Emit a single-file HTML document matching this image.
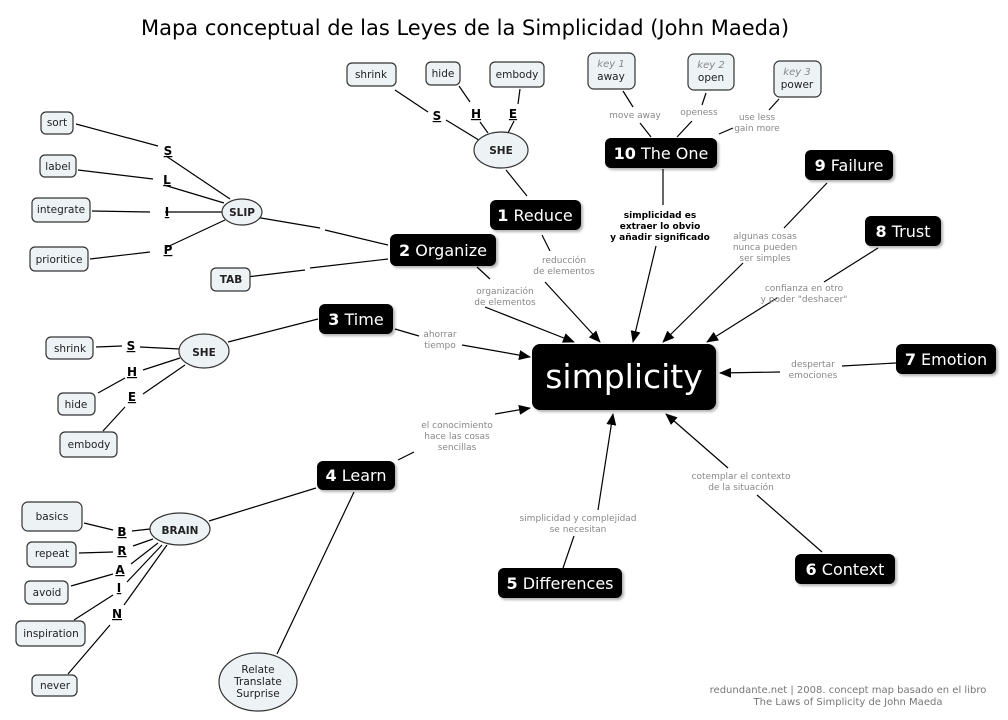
<!DOCTYPE html>
<html><head><meta charset="utf-8"><style>
html,body{margin:0;padding:0;background:#fff;}
svg{display:block;}
text{font-family:"DejaVu Sans","Liberation Sans",sans-serif;}
.b{fill:#000;}
.l{fill:#edf2f5;stroke:#333;stroke-width:1.2;}
.c{stroke:#000;stroke-width:1.2;fill:none;}
.g{fill:#888;font-size:9px;text-anchor:middle;}
.n{font-size:10.5px;fill:#222;text-anchor:middle;}
.L{font-size:12px;font-weight:bold;text-anchor:middle;text-decoration:underline;fill:#000;}
.bt{fill:#fff;font-size:16px;text-anchor:middle;}
</style></head><body>
<svg width="1008" height="720" viewBox="0 0 1008 720" xmlns="http://www.w3.org/2000/svg">
<defs>
<marker id="a" markerWidth="12" markerHeight="10" refX="11" refY="5" orient="auto" markerUnits="userSpaceOnUse"><path d="M0,0 L12,5 L0,10 z" fill="#000"/></marker>
<filter id="s"><feDropShadow dx="2" dy="2" stdDeviation="1.2" flood-color="#000" flood-opacity="0.3"/></filter>
</defs>
<text x="465" y="35" font-size="21" text-anchor="middle" fill="#000">Mapa conceptual de las Leyes de la Simplicidad (John Maeda)</text>

<g class="c">
<line x1="395" y1="90" x2="428" y2="112"/><line x1="446" y1="120" x2="482" y2="142"/>
<line x1="459" y1="86" x2="470" y2="102"/><line x1="480" y1="122" x2="488" y2="133"/>
<line x1="520" y1="89" x2="518" y2="104"/><line x1="514" y1="121" x2="508" y2="133"/>
<line x1="506" y1="170" x2="527" y2="196"/>
<line x1="76" y1="124" x2="158" y2="146"/><line x1="166" y1="156" x2="230" y2="199"/>
<line x1="78" y1="170" x2="153" y2="179"/><line x1="164" y1="185" x2="224" y2="203"/>
<line x1="92" y1="211" x2="150" y2="212"/><line x1="165" y1="212" x2="222" y2="212"/>
<line x1="90" y1="259" x2="150" y2="252"/><line x1="165" y1="248" x2="225" y2="220"/>
<line x1="255" y1="217" x2="320" y2="228"/><line x1="325" y1="230" x2="388" y2="245"/>
<line x1="238" y1="278" x2="305" y2="270"/><line x1="310" y1="268" x2="388" y2="259"/>
<line x1="96" y1="347" x2="122" y2="346"/><line x1="140" y1="347" x2="180" y2="349"/>
<line x1="98" y1="393" x2="125" y2="378"/><line x1="143" y1="370" x2="180" y2="358"/>
<line x1="103" y1="431" x2="125" y2="407"/><line x1="143" y1="394" x2="185" y2="365"/>
<line x1="228" y1="342" x2="318" y2="319"/>
<line x1="84" y1="523" x2="113" y2="530"/><line x1="132" y1="531" x2="150" y2="529"/>
<line x1="79" y1="553" x2="113" y2="552"/><line x1="133" y1="546" x2="153" y2="539"/>
<line x1="71" y1="586" x2="113" y2="574"/><line x1="131" y1="564" x2="158" y2="543"/>
<line x1="74" y1="620" x2="113" y2="595"/><line x1="127" y1="582" x2="162" y2="545"/>
<line x1="68" y1="674" x2="110" y2="625"/><line x1="124" y1="605" x2="167" y2="545"/>
<line x1="209" y1="521" x2="316" y2="488"/>
<line x1="354" y1="492" x2="277" y2="654"/>
<line x1="623" y1="91" x2="633" y2="107"/><line x1="640" y1="123" x2="651" y2="137"/>
<line x1="706" y1="93" x2="702" y2="105"/><line x1="692" y1="121" x2="677" y2="137"/>
<line x1="779" y1="99" x2="769" y2="110"/><line x1="733" y1="128" x2="719" y2="134"/>
</g>
<g class="c" marker-end="url(#a)">
<line x1="485" y1="307" x2="574" y2="342"/>
<line x1="545" y1="282" x2="600" y2="342"/>
<line x1="656" y1="246" x2="633" y2="342"/>
<line x1="743" y1="263" x2="663" y2="342"/>
<line x1="777" y1="298" x2="707" y2="342"/>
<line x1="780" y1="372" x2="720" y2="373"/>
<line x1="728" y1="468" x2="666" y2="414"/>
<line x1="598" y1="510" x2="613" y2="414"/>
<line x1="495" y1="414" x2="530" y2="408"/>
<line x1="462" y1="345" x2="530" y2="357"/>
</g>
<g class="c">
<line x1="663" y1="169" x2="663" y2="205"/>
<line x1="827" y1="183" x2="784" y2="228"/>
<line x1="878" y1="248" x2="824" y2="282"/>
<line x1="842" y1="366" x2="896" y2="363"/>
<line x1="757" y1="495" x2="822" y2="552"/>
<line x1="563" y1="568" x2="574" y2="536"/>
<line x1="398" y1="460" x2="414" y2="452"/>
<line x1="542" y1="235" x2="550" y2="251"/>
<line x1="477" y1="267" x2="490" y2="279"/>
<line x1="395" y1="329" x2="419" y2="336"/>
</g>

<text class="L" x="437" y="120">S</text><text class="L" x="476" y="118">H</text><text class="L" x="513" y="118">E</text>
<text class="L" x="168" y="155">S</text><text class="L" x="167" y="184">L</text><text class="L" x="167" y="216">I</text><text class="L" x="168" y="254">P</text>
<text class="L" x="131" y="350">S</text><text class="L" x="132" y="376">H</text><text class="L" x="132" y="401">E</text>
<text class="L" x="122" y="536">B</text><text class="L" x="122" y="555">R</text><text class="L" x="120" y="574">A</text><text class="L" x="119" y="592">I</text><text class="L" x="117" y="618">N</text>

<g class="g">
<text x="635" y="118">move away</text><text x="699" y="115">openess</text>
<text x="757" y="120">use less</text><text x="757" y="131">gain more</text>
<text x="564" y="263">reducción</text><text x="564" y="274">de elementos</text>
<text x="505" y="294">organización</text><text x="505" y="305">de elementos</text>
<text x="440" y="337">ahorrar</text><text x="440" y="348">tiempo</text>
<text x="457" y="428">el conocimiento</text><text x="457" y="439">hace las cosas</text><text x="457" y="450">sencillas</text>
<text x="765" y="239">algunas cosas</text><text x="765" y="250">nunca pueden</text><text x="765" y="261">ser simples</text>
<text x="804" y="291">confianza en otro</text><text x="804" y="302">y poder "deshacer"</text>
<text x="813" y="367">despertar</text><text x="813" y="378">emociones</text>
<text x="741" y="479">cotemplar el contexto</text><text x="741" y="490">de la situación</text>
<text x="578" y="521">simplicidad y complejidad</text><text x="578" y="532">se necesitan</text>
</g>
<g font-size="9" font-weight="bold" text-anchor="middle" fill="#000">
<text x="660" y="218">simplicidad es</text><text x="660" y="229">extraer lo obvio</text><text x="660" y="240">y añadir significado</text>
</g>

<g>
<rect class="l" x="347" y="63" width="49" height="23" rx="5"/><text class="n" x="371" y="78">shrink</text>
<rect class="l" x="426" y="62" width="34" height="23" rx="5"/><text class="n" x="443" y="77">hide</text>
<rect class="l" x="490" y="62" width="54" height="25" rx="5"/><text class="n" x="517" y="78">embody</text>
<ellipse class="l" cx="501" cy="150" rx="27" ry="18"/><text class="n" x="501" y="154" font-weight="bold" font-size="11">SHE</text>

<rect class="l" x="41" y="112" width="32" height="22" rx="5"/><text class="n" x="57" y="126">sort</text>
<rect class="l" x="40" y="155" width="36" height="22" rx="5"/><text class="n" x="58" y="170">label</text>
<rect class="l" x="32" y="198" width="58" height="24" rx="5"/><text class="n" x="61" y="213">integrate</text>
<rect class="l" x="30" y="247" width="58" height="24" rx="5"/><text class="n" x="59" y="263">prioritice</text>
<rect class="l" x="211" y="268" width="39" height="23" rx="5"/><text class="n" x="231" y="283" font-weight="bold">TAB</text>
<ellipse class="l" cx="242" cy="212" rx="20" ry="13"/><text class="n" x="242" y="216" font-weight="bold" font-size="9">SLIP</text>

<rect class="l" x="588" y="53" width="47" height="36" rx="6"/><text x="611" y="67" font-size="10" font-style="italic" fill="#888" text-anchor="middle">key 1</text><text class="n" x="611" y="80">away</text>
<rect class="l" x="688" y="54" width="46" height="36" rx="6"/><text x="711" y="68" font-size="10" font-style="italic" fill="#888" text-anchor="middle">key 2</text><text class="n" x="711" y="81">open</text>
<rect class="l" x="774" y="61" width="47" height="36" rx="6"/><text x="797" y="75" font-size="10" font-style="italic" fill="#888" text-anchor="middle">key 3</text><text class="n" x="797" y="88">power</text>

<rect class="l" x="46" y="337" width="47" height="22" rx="5"/><text class="n" x="70" y="352">shrink</text>
<rect class="l" x="58" y="393" width="37" height="22" rx="5"/><text class="n" x="76" y="408">hide</text>
<rect class="l" x="60" y="432" width="57" height="25" rx="5"/><text class="n" x="89" y="448">embody</text>
<ellipse class="l" cx="204" cy="351" rx="25" ry="17"/><text class="n" x="204" y="356" font-weight="bold" font-size="11">SHE</text>

<rect class="l" x="22" y="502" width="60" height="29" rx="6"/><text class="n" x="52" y="520">basics</text>
<rect class="l" x="27" y="542" width="49" height="25" rx="5"/><text class="n" x="52" y="557">repeat</text>
<rect class="l" x="25" y="581" width="43" height="23" rx="5"/><text class="n" x="47" y="596">avoid</text>
<rect class="l" x="16" y="621" width="69" height="25" rx="5"/><text class="n" x="51" y="637">inspiration</text>
<rect class="l" x="32" y="675" width="45" height="21" rx="5"/><text class="n" x="55" y="689">never</text>
<ellipse class="l" cx="180" cy="529" rx="30" ry="16"/><text class="n" x="180" y="534" font-weight="bold" font-size="11">BRAIN</text>
<ellipse class="l" cx="258" cy="682" rx="39" ry="29"/>
<text class="n" x="258" y="673">Relate</text><text class="n" x="258" y="685">Translate</text><text class="n" x="258" y="697">Surprise</text>
</g>

<g filter="url(#s)">
<rect class="b" x="532" y="344" width="184" height="66" rx="8"/>
<rect class="b" x="490" y="200" width="91" height="30" rx="6"/>
<rect class="b" x="390" y="234" width="106" height="32" rx="6"/>
<rect class="b" x="319" y="304" width="74" height="30" rx="6"/>
<rect class="b" x="317" y="461" width="78" height="29" rx="6"/>
<rect class="b" x="498" y="568" width="124" height="30" rx="6"/>
<rect class="b" x="795" y="554" width="100" height="30" rx="6"/>
<rect class="b" x="896" y="344" width="100" height="30" rx="6"/>
<rect class="b" x="865" y="216" width="76" height="30" rx="6"/>
<rect class="b" x="805" y="150" width="88" height="30" rx="6"/>
<rect class="b" x="605" y="138" width="112" height="30" rx="6"/>
</g>
<text x="624" y="388" font-size="33" fill="#fff" text-anchor="middle">simplicity</text>
<text class="bt" x="535" y="221"><tspan font-weight="bold">1</tspan> Reduce</text>
<text class="bt" x="443" y="256"><tspan font-weight="bold">2</tspan> Organize</text>
<text class="bt" x="356" y="325"><tspan font-weight="bold">3</tspan> Time</text>
<text class="bt" x="356" y="481"><tspan font-weight="bold">4</tspan> Learn</text>
<text class="bt" x="560" y="589"><tspan font-weight="bold">5</tspan> Differences</text>
<text class="bt" x="845" y="575"><tspan font-weight="bold">6</tspan> Context</text>
<text class="bt" x="946" y="365"><tspan font-weight="bold">7</tspan> Emotion</text>
<text class="bt" x="903" y="237"><tspan font-weight="bold">8</tspan> Trust</text>
<text class="bt" x="849" y="171"><tspan font-weight="bold">9</tspan> Failure</text>
<text class="bt" x="661" y="159"><tspan font-weight="bold">10</tspan> The One</text>

<text x="848" y="693" font-size="10" fill="#777" text-anchor="middle">redundante.net | 2008. concept map basado en el libro</text>
<text x="848" y="705" font-size="10" fill="#777" text-anchor="middle">The Laws of Simplicity de John Maeda</text>
</svg>
</body></html>
